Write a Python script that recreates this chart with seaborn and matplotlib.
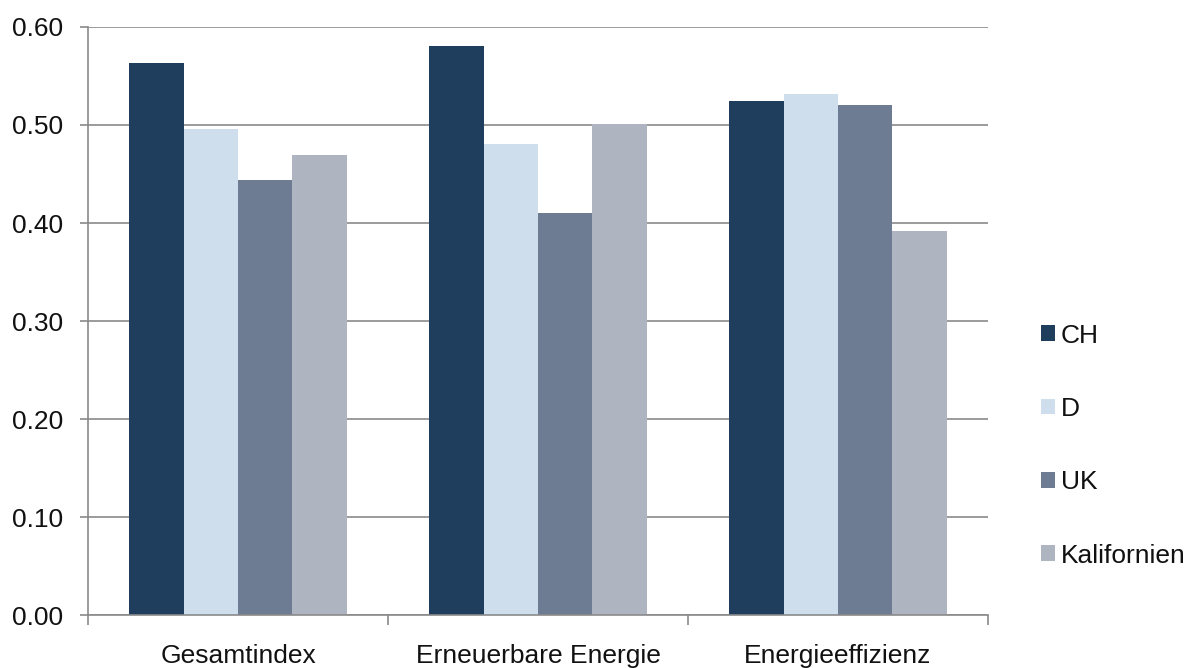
import matplotlib
matplotlib.use('Agg')
import matplotlib.pyplot as plt
import numpy as np
import pandas as pd
import seaborn as sns

# values
categories = ['Gesamtindex', 'Erneuerbare Energie', 'Energieeffizienz']
regions = ['CH', 'D', 'UK', 'Kalifornien']
ch = [0.563, 0.581, 0.524]
d = [0.496, 0.481, 0.532]
uk = [0.444, 0.410, 0.520]
kalifornien = [0.469, 0.501, 0.392]
colors = ['#1f3d5c', '#cfdeed', '#6e7c93', '#afb5c0']

rows = []
for region, vals in zip(regions, [ch, d, uk, kalifornien]):
    for cat, v in zip(categories, vals):
        rows.append({'Kategorie': cat, 'Region': region, 'Wert': v})
df = pd.DataFrame(rows)

sns.set_style('white')
plt.rcParams['font.family'] = ['Liberation Sans', 'DejaVu Sans']

fig = plt.figure(figsize=(11.86, 6.68), dpi=100)
ax = fig.add_axes([0.0742, 0.0793, 0.7589, 0.8803])

sns.barplot(data=df, x='Kategorie', y='Wert', hue='Region', order=categories,
            hue_order=regions, palette=colors, width=0.725, gap=0,
            saturation=1, linewidth=0, ax=ax, legend=True)

grid_c = '#8a8a8a'
fs = 19
ax.set_ylim(0, 0.6)
ax.set_xlim(-0.5, 2.5)
ax.set_yticks(np.arange(0, 0.61, 0.1))
ax.set_yticklabels(['{:.2f}'.format(v) for v in np.arange(0, 0.61, 0.1)])
ax.yaxis.grid(True, color=grid_c, linewidth=1.2)
ax.set_axisbelow(True)
ax.set_xlabel('')
ax.set_ylabel('')

for s in ['top', 'right']:
    ax.spines[s].set_visible(False)
for s in ['left', 'bottom']:
    ax.spines[s].set_color(grid_c)
    ax.spines[s].set_linewidth(1.2)

ax.tick_params(axis='y', length=6, width=1.2, color=grid_c, pad=12,
               labelsize=fs, labelcolor='#111111', direction='out', left=True)
ax.tick_params(axis='x', which='major', length=0, pad=21, labelsize=fs,
               labelcolor='#111111')
ax.set_xticks([-0.5, 0.5, 1.5, 2.5], minor=True)
ax.tick_params(axis='x', which='minor', length=7, width=1.2, color=grid_c,
               direction='out', bottom=True)

handles, labels = ax.get_legend_handles_labels()
ax.get_legend().remove()
leg = fig.legend(handles, labels, loc='center left',
                 bbox_to_anchor=(0.8778, 0.333), frameon=False,
                 fontsize=fs, handlelength=0.53, handleheight=0.53,
                 handletextpad=0.22, labelspacing=1.87, borderaxespad=0,
                 borderpad=0)
for t in leg.get_texts():
    t.set_color('#111111')

fig.savefig('out.png', dpi=100)
